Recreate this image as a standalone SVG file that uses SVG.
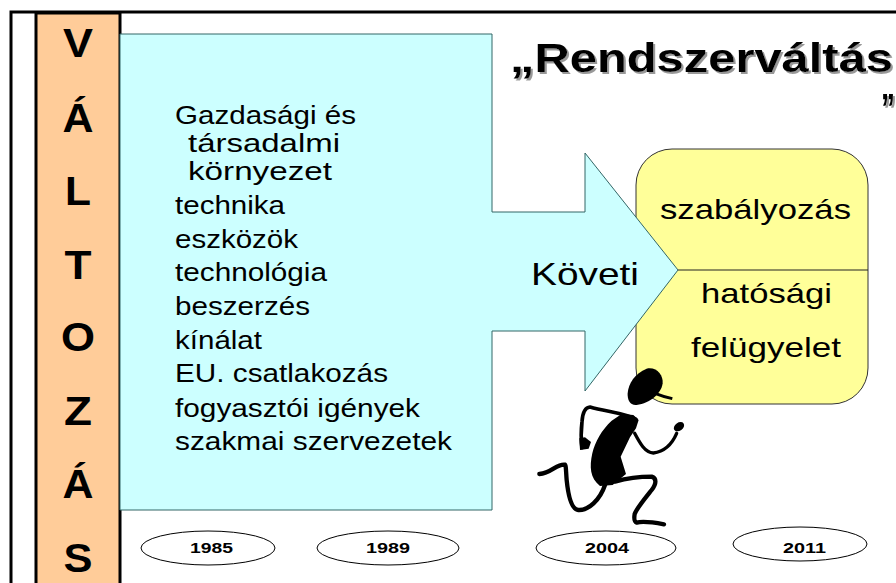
<svg xmlns="http://www.w3.org/2000/svg" width="896" height="583" viewBox="0 0 896 583">
  <style>
    text { font-family: "Liberation Sans", Arial, sans-serif; fill: #000; }
    .body { font-size: 25px; }
    .big { font-size: 28px; }
    .letter { font-size: 40px; font-weight: bold; text-anchor: middle; }
    .title { font-size: 40px; font-weight: bold; filter: url(#soft); }
    .year { font-size: 15.5px; font-weight: bold; }
    .oval { fill: #fff; stroke: #000; stroke-width: 1; }
    .limb { fill: none; stroke: #000; stroke-width: 14; stroke-linecap: round; stroke-linejoin: round; }
  </style>
  <defs>
    <filter id="soft" x="-5%" y="-20%" width="110%" height="150%">
      <feDropShadow dx="2" dy="2" stdDeviation="0.6" flood-color="#999"/>
    </filter>
  </defs>
  <rect width="896" height="583" fill="#fff"/>

  <!-- outer frame -->
  <path d="M11 583V12H896" fill="none" stroke="#000" stroke-width="3"/>

  <g id="changes-column">
    <rect x="36" y="13" width="84" height="575" fill="#ffcc99" stroke="#000" stroke-width="3"/>
    <text class="letter" x="78" y="57" textLength="30" lengthAdjust="spacingAndGlyphs">V</text>
    <text class="letter" x="78" y="132" textLength="31" lengthAdjust="spacingAndGlyphs">Á</text>
    <text class="letter" x="78" y="205" textLength="26" lengthAdjust="spacingAndGlyphs">L</text>
    <text class="letter" x="78" y="279" textLength="27" lengthAdjust="spacingAndGlyphs">T</text>
    <text class="letter" x="78" y="351" textLength="34" lengthAdjust="spacingAndGlyphs">O</text>
    <text class="letter" x="78" y="425" textLength="28" lengthAdjust="spacingAndGlyphs">Z</text>
    <text class="letter" x="78" y="498" textLength="31" lengthAdjust="spacingAndGlyphs">Á</text>
    <text class="letter" x="78" y="572" textLength="29" lengthAdjust="spacingAndGlyphs">S</text>
  </g>

  <g id="title">
    <text class="title" x="510" y="72" textLength="383" lengthAdjust="spacingAndGlyphs">„Rendszerváltás</text>
    <text class="title" x="881" y="122" textLength="14" lengthAdjust="spacingAndGlyphs">”</text>
  </g>

  <g id="regulation">
    <rect x="636" y="149" width="232" height="255" rx="36" ry="36" fill="#ffff99" stroke="#333" stroke-width="1"/>
    <path d="M678 270H868" stroke="#222" stroke-width="1"/>
    <text class="big" x="660" y="219" textLength="191" lengthAdjust="spacingAndGlyphs">szabályozás</text>
    <text class="big" x="701" y="303" textLength="131" lengthAdjust="spacingAndGlyphs">hatósági</text>
    <text class="big" x="691" y="357" textLength="150" lengthAdjust="spacingAndGlyphs">felügyelet</text>
  </g>

  <g id="environment-arrow">
    <polygon points="120,34 492,34 492,212 585,212 585,153 678,270 585,391 585,331 492,331 492,510 120,510" fill="#ccffff" stroke="#336666" stroke-width="1"/>
    <text class="body" x="175" y="124" textLength="181" lengthAdjust="spacingAndGlyphs">Gazdasági és</text>
    <text class="body" x="188" y="152" textLength="152" lengthAdjust="spacingAndGlyphs">társadalmi</text>
    <text class="body" x="188" y="180" textLength="144" lengthAdjust="spacingAndGlyphs">környezet</text>
    <text class="body" x="175" y="214" textLength="110" lengthAdjust="spacingAndGlyphs">technika</text>
    <text class="body" x="175" y="248" textLength="123" lengthAdjust="spacingAndGlyphs">eszközök</text>
    <text class="body" x="175" y="281" textLength="152" lengthAdjust="spacingAndGlyphs">technológia</text>
    <text class="body" x="175" y="315" textLength="135" lengthAdjust="spacingAndGlyphs">beszerzés</text>
    <text class="body" x="175" y="349" textLength="87" lengthAdjust="spacingAndGlyphs">kínálat</text>
    <text class="body" x="175" y="382" textLength="213" lengthAdjust="spacingAndGlyphs">EU. csatlakozás</text>
    <text class="body" x="175" y="417" textLength="245" lengthAdjust="spacingAndGlyphs">fogyasztói igények</text>
    <text class="body" x="175" y="450" textLength="277" lengthAdjust="spacingAndGlyphs">szakmai szervezetek</text>
    <text x="531" y="285" font-size="32" textLength="108" lengthAdjust="spacingAndGlyphs">Követi</text>
  </g>

  <!-- running figure, drawn at triple scale -->
  <g id="runner" transform="translate(500 350) scale(.3333)">
    <path d="M383 130C385 100 405 70 440 56C470 50 490 75 488 100C485 130 450 160 410 165C390 167 382 150 383 130Z"/>
    <path d="M465 130C480 136 500 142 517 146" fill="none" stroke="#000" stroke-width="9"/>
    <path d="M335 212C305 240 285 275 277 310C268 350 270 385 300 408L338 405L378 372L362 320L390 262L408 235L416 210L400 195L365 192Z"/>
    <path class="limb" d="M408 208C380 190 320 185 270 171C255 172 248 185 246 215C243 240 243 270 246 293" style="stroke-width:11"/>
    <path d="M240 300L266 296L273 276L255 262L238 265Z"/>
    <path class="limb" d="M404 250C420 280 435 308 460 309C490 305 515 285 530 250" style="stroke-width:10"/>
    <ellipse cx="537" cy="230" rx="17" ry="12" transform="rotate(-35 537 230)"/>
    <path class="limb" d="M315 405C300 450 265 482 235 480C215 478 205 440 200 390C198 365 198 345 195 344C170 340 155 370 118 372" style="stroke-width:13"/>
    <path class="limb" d="M345 395C380 385 420 380 455 380C470 385 470 400 455 420C435 445 410 475 404 492C402 505 403 516 410 518C430 512 465 518 492 523" style="stroke-width:13"/>
  </g>

  <g id="year-1985">
    <ellipse class="oval" cx="208" cy="548" rx="67" ry="17"/>
    <text class="year" x="190" y="553" textLength="43" lengthAdjust="spacingAndGlyphs">1985</text>
  </g>
  <g id="year-1989">
    <ellipse class="oval" cx="388" cy="548" rx="71" ry="17"/>
    <text class="year" x="366" y="553" textLength="44" lengthAdjust="spacingAndGlyphs">1989</text>
  </g>
  <g id="year-2004">
    <ellipse class="oval" cx="606" cy="548" rx="70" ry="17"/>
    <text class="year" x="585" y="553" textLength="44" lengthAdjust="spacingAndGlyphs">2004</text>
  </g>
  <g id="year-2011">
    <ellipse class="oval" cx="800" cy="544" rx="67" ry="17"/>
    <text class="year" x="783" y="553" textLength="43" lengthAdjust="spacingAndGlyphs">2011</text>
  </g>
</svg>
